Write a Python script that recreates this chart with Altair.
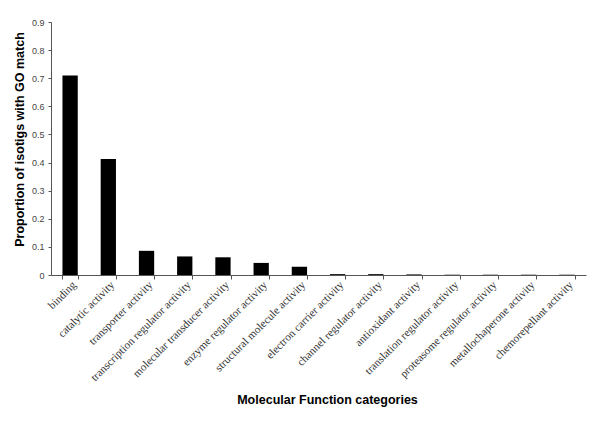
import altair as alt
import pandas as pd

categories = [
    "binding", "catalytic activity", "transporter activity",
    "transcription regulator activity", "molecular transducer activity",
    "enzyme regulator activity", "structural molecule activity",
    "electron carrier activity", "channel regulator activity",
    "antioxidant activity", "translation regulator activity",
    "proteasome regulator activity", "metallochaperone activity",
    "chemorepellant activity",
]
values = [0.71, 0.413, 0.086, 0.066, 0.063, 0.043, 0.029,
          0.003, 0.003, 0.002, 0.001, 0.001, 0.001, 0.001]

df = pd.DataFrame({"category": categories, "value": values})

chart = alt.Chart(df).mark_bar(color="black").encode(
    x=alt.X("category:N", sort=categories,
            scale=alt.Scale(paddingInner=0.6, paddingOuter=0.3),
            axis=alt.Axis(title="Molecular Function categories", labelAngle=-45,
                          labelAlign="right", labelBaseline="middle",
                          labelFont="Liberation Serif", labelFontSize=11.2,
                          labelColor="#333", tickBand="extent", tickSize=4,
                          tickColor="#555", domainColor="#555", labelOffset=4,
                          titleFont="Liberation Sans", titleFontSize=12.5,
                          titleFontWeight="bold", titleColor="black",
                          titlePadding=11, titleX=276, labelPadding=4,
                          labelLimit=300)),
    y=alt.Y("value:Q", scale=alt.Scale(domain=[0, 0.9]),
            axis=alt.Axis(title="Proportion of isotigs with GO match",
                          values=[0, 0.1, 0.2, 0.3, 0.4, 0.5, 0.6, 0.7, 0.8, 0.9],
                          format="~g", grid=False, tickSize=3,
                          tickColor="#555", domainColor="#555",
                          labelFont="Liberation Sans", labelFontSize=9,
                          labelColor="#444", labelPadding=4,
                          titleFont="Liberation Sans", titleFontSize=12.5,
                          titleFontWeight="bold", titleColor="black",
                          titlePadding=5, titleY=117)),
).properties(
    width=535, height=253,
    autosize=alt.AutoSizeParams(type="none"),
    padding={"left": 43, "top": 14, "right": 6, "bottom": 139},
).configure_view(stroke=None)

chart.save("out.html", embed_options={"renderer": "svg", "actions": False})
